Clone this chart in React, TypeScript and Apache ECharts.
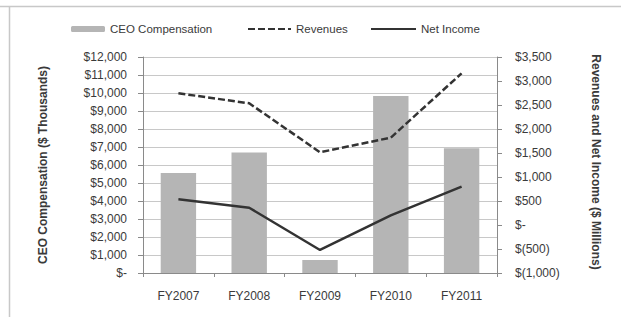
import React, { useEffect, useRef } from "react";
import * as echarts from "echarts";

const categories = ["FY2007", "FY2008", "FY2009", "FY2010", "FY2011"];
const ceoCompensation = [5550, 6700, 720, 9830, 6930];
const revenues = [2745, 2535, 1515, 1820, 3160];
const netIncome = [535, 360, -520, 200, 800];

const FONT = "'Liberation Sans', Arial, sans-serif";
const TEXT = "#3a3a3a";

function leftFmt(v: number) {
  if (v === 0) return "$-";
  return "$" + v.toLocaleString("en-US");
}
function rightFmt(v: number) {
  if (v === 0) return "$-";
  if (v < 0) return "$(" + Math.abs(v).toLocaleString("en-US") + ")";
  return "$" + v.toLocaleString("en-US");
}

export default function App() {
  const ref = useRef<HTMLDivElement>(null);
  useEffect(() => {
    if (!ref.current) return;
    const chart = echarts.init(ref.current, null, { renderer: "svg" });
    const legendText = { fontFamily: FONT, fontSize: 11.5, color: TEXT };
    const hiddenSymbol = { opacity: 0, borderWidth: 0 };
    chart.setOption({
      animation: false,
      backgroundColor: "#fff",
      textStyle: { fontFamily: FONT },
      grid: { left: 143, right: 124, top: 57, bottom: 44 },
      legend: [
        { data: ["CEO Compensation"], left: 66, top: 18, itemWidth: 34, itemHeight: 6, itemGap: 5, textStyle: legendText },
        { data: ["Revenues"], left: 242, top: 18, itemWidth: 43, itemHeight: 6, textStyle: legendText, itemStyle: hiddenSymbol },
        { data: ["Net Income"], left: 365, top: 18, itemWidth: 45, itemHeight: 6, textStyle: legendText, itemStyle: hiddenSymbol },
      ],
      xAxis: {
        type: "category",
        data: categories,
        axisLine: { lineStyle: { color: "#8a8a8a", width: 1 } },
        axisTick: { show: true, length: 4, lineStyle: { color: "#8a8a8a" } },
        axisLabel: { color: TEXT, fontSize: 12, margin: 17, fontFamily: FONT },
      },
      yAxis: [
        {
          type: "value",
          min: 0,
          max: 12000,
          interval: 1000,
          axisLine: { show: true, lineStyle: { color: "#8a8a8a" } },
          axisTick: { show: true, length: 5, lineStyle: { color: "#8a8a8a" } },
          axisLabel: { color: TEXT, fontSize: 12, margin: 16, formatter: leftFmt, fontFamily: FONT },
          splitLine: { show: true, lineStyle: { color: "#c8c8c8", width: 1 } },
        },
        {
          type: "value",
          min: -1000,
          max: 3500,
          interval: 500,
          position: "right",
          axisLine: { show: true, lineStyle: { color: "#8a8a8a" } },
          axisTick: { show: true, length: 5, lineStyle: { color: "#8a8a8a" } },
          axisLabel: { color: TEXT, fontSize: 12, margin: 18, formatter: rightFmt, fontFamily: FONT },
          splitLine: { show: false },
        },
      ],
      series: [
        {
          name: "CEO Compensation",
          type: "bar",
          data: ceoCompensation,
          yAxisIndex: 0,
          barWidth: "50%",
          itemStyle: { color: "#b5b5b5" },
        },
        {
          name: "Revenues",
          type: "line",
          data: revenues,
          yAxisIndex: 1,
          symbol: "none",
          lineStyle: { color: "#333333", width: 2.5, type: [7, 3] },
          itemStyle: { color: "#333333" },
        },
        {
          name: "Net Income",
          type: "line",
          data: netIncome,
          yAxisIndex: 1,
          symbol: "none",
          lineStyle: { color: "#333333", width: 2.5 },
          itemStyle: { color: "#333333" },
        },
      ],
      graphic: [
        { type: "line", shape: { x1: 0, y1: 6.5, x2: 621, y2: 6.5 }, style: { stroke: "#c8c8c8", lineWidth: 1.5 } },
        { type: "line", shape: { x1: 9.5, y1: 6, x2: 9.5, y2: 317 }, style: { stroke: "#c8c8c8", lineWidth: 1.5 } },
        {
          type: "text",
          x: 43,
          y: 165,
          rotation: Math.PI / 2,
          style: {
            text: "CEO Compensation ($ Thousands)",
            fontFamily: FONT,
            fontWeight: "bold",
            fontSize: 12,
            fill: TEXT,
            align: "center",
            verticalAlign: "middle",
          },
        },
        {
          type: "text",
          x: 596,
          y: 162,
          rotation: -Math.PI / 2,
          style: {
            text: "Revenues and Net Income ($ Millions)",
            fontFamily: FONT,
            fontWeight: "bold",
            fontSize: 12,
            fill: TEXT,
            align: "center",
            verticalAlign: "middle",
          },
        },
      ],
    });
    return () => chart.dispose();
  }, []);
  return (
    <div
      ref={ref}
      style={{ position: "fixed", left: 0, top: 0, width: 621, height: 317 }}
    />
  );
}
